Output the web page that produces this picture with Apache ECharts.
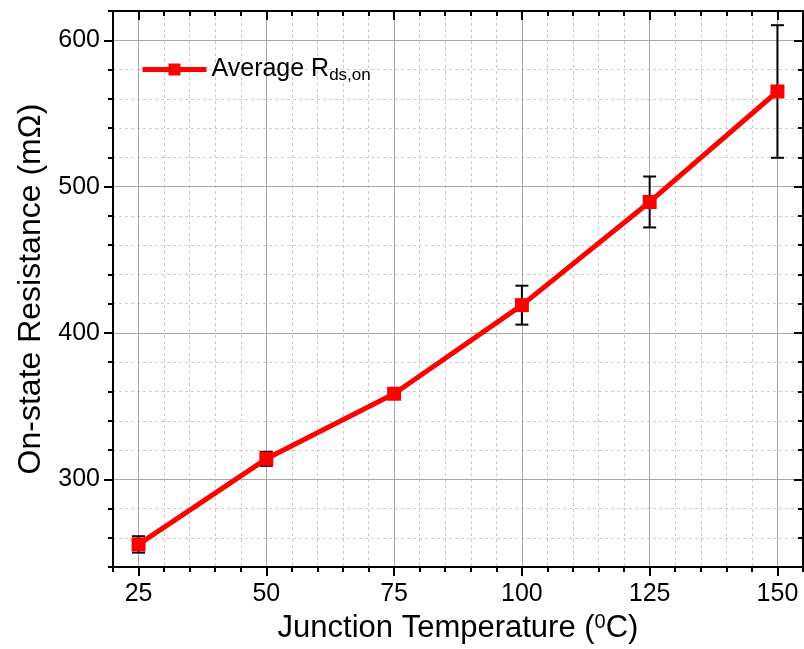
<!DOCTYPE html>
<html>
<head>
<meta charset="utf-8">
<script src="https://cdn.jsdelivr.net/npm/echarts@6/dist/echarts.min.js"></script>
<style>
  html, body { margin: 0; padding: 0; background: #ffffff; }
  #chart { width: 804px; height: 649px; }
</style>
</head>
<body>
<div id="chart"></div>
<script>
// Junction temperature (°C) and measured average on-state resistance (mΩ)
const temps = [25, 50, 75, 100, 125, 150];
const rdsOn = [255.5, 314, 358.5, 419, 489.5, 565];
const rdsErr = [5.6, 4.8, 3.7, 13.3, 17.4, 45.3];

// Tick positions
const xMajorTicks = [25, 50, 75, 100, 125, 150];
const yMajorTicks = [300, 400, 500, 600];

const FONT = '"Liberation Sans", Arial, sans-serif';
const AXIS_BLACK = { color: '#000', width: 2 };
const MAJOR_GRID = { color: '#a8a8a8', width: 1, type: 'solid' };
const MINOR_GRID = { color: '#cccccc', width: 1, type: [3, 3] };

function xAxisDef(pos, major) {
  const isBottom = pos === 'bottom';
  const def = {
    type: 'value', position: pos, min: 20, max: 155, interval: 5,
    z: major ? 1 : 0,
    axisLine: { show: major, onZero: false, lineStyle: AXIS_BLACK },
    axisTick: { show: true, inside: !isBottom, length: major ? 9 : 5, lineStyle: AXIS_BLACK },
    axisLabel: { show: false },
    splitLine: { show: false }
  };
  if (major) {
    def.axisTick.customValues = xMajorTicks;
  }
  if (isBottom && major) {
    def.axisLabel = { show: true, customValues: xMajorTicks, margin: 15, fontSize: 25, color: '#000', fontFamily: FONT };
    def.splitLine = { show: true, lineStyle: MAJOR_GRID };
    def.name = '{t|Junction Temperature (}{s|0}{t|C)}';
    def.nameLocation = 'middle';
    def.nameGap = 41;
    def.nameTextStyle = {
      fontFamily: FONT, color: '#000',
      rich: {
        t: { fontSize: 31, fontFamily: FONT, color: '#000', lineHeight: 34 },
        s: { fontSize: 20, fontFamily: FONT, color: '#000', lineHeight: 34, padding: [0, 0, 12, 0] }
      }
    };
  }
  if (isBottom && !major) {
    def.splitLine = { show: true, lineStyle: MINOR_GRID };
  }
  return def;
}

function yAxisDef(pos, major) {
  const isLeft = pos === 'left';
  const def = {
    type: 'value', position: pos, min: 240, max: 620, interval: 20,
    z: major ? 1 : 0,
    axisLine: { show: major, onZero: false, lineStyle: AXIS_BLACK },
    axisTick: { show: true, inside: !isLeft, length: major ? 9 : 5, lineStyle: AXIS_BLACK },
    axisLabel: { show: false },
    splitLine: { show: false }
  };
  if (major) {
    def.axisTick.customValues = yMajorTicks;
  }
  if (isLeft && major) {
    def.axisLabel = { show: true, customValues: yMajorTicks, margin: 13, fontSize: 25, color: '#000', fontFamily: FONT };
    def.splitLine = { show: true, lineStyle: MAJOR_GRID };
    def.name = 'On-state Resistance (mΩ)';
    def.nameLocation = 'middle';
    def.nameRotate = 90;
    def.nameGap = 58;
    def.nameTextStyle = { fontSize: 32, fontFamily: FONT, color: '#000' };
  }
  if (isLeft && !major) {
    def.splitLine = { show: true, lineStyle: MINOR_GRID };
  }
  return def;
}

const chart = echarts.init(document.getElementById('chart'), null, { renderer: 'canvas' });

chart.setOption({
  animation: false,
  backgroundColor: '#ffffff',
  grid: { left: 113, right: 1, top: 11, bottom: 81, containLabel: false },
  xAxis: [
    xAxisDef('bottom', true),
    xAxisDef('bottom', false),
    xAxisDef('top', true),
    xAxisDef('top', false)
  ],
  yAxis: [
    yAxisDef('left', true),
    yAxisDef('left', false),
    yAxisDef('right', true),
    yAxisDef('right', false)
  ],
  legend: {
    show: true,
    data: ['Average Rds,on'],
    left: 140,
    top: 55,
    padding: 0,
    itemWidth: 64,
    itemHeight: 15,
    lineStyle: { width: 5, color: '#ff0000' },
    itemStyle: { color: '#ff0000' },
    formatter: function () { return '{a|Average R}{b|ds,on}'; },
    textStyle: {
      rich: {
        a: { fontSize: 25, fontFamily: FONT, color: '#000', lineHeight: 32 },
        b: { fontSize: 17, fontFamily: FONT, color: '#000', lineHeight: 32, padding: [12, 0, 0, 0] }
      }
    }
  },
  series: [
    {
      name: 'Error',
      type: 'custom',
      xAxisIndex: 0,
      yAxisIndex: 0,
      z: 2,
      data: temps.map((t, i) => [t, rdsOn[i], rdsErr[i]]),
      encode: { x: 0, y: 1 },
      renderItem: function (params, api) {
        const x = api.value(0);
        const y = api.value(1);
        const e = api.value(2);
        const top = api.coord([x, y + e]);
        const bot = api.coord([x, y - e]);
        const hw = 6.5;
        const st = { stroke: '#000', lineWidth: 2 };
        return {
          type: 'group',
          children: [
            { type: 'line', shape: { x1: top[0], y1: top[1], x2: bot[0], y2: bot[1] }, style: st },
            { type: 'line', shape: { x1: top[0] - hw, y1: top[1], x2: top[0] + hw, y2: top[1] }, style: st },
            { type: 'line', shape: { x1: bot[0] - hw, y1: bot[1], x2: bot[0] + hw, y2: bot[1] }, style: st }
          ]
        };
      }
    },
    {
      name: 'Average Rds,on',
      type: 'line',
      xAxisIndex: 0,
      yAxisIndex: 0,
      z: 3,
      data: temps.map((t, i) => [t, rdsOn[i]]),
      symbol: 'rect',
      symbolSize: 14,
      lineStyle: { color: '#ff0000', width: 5 },
      itemStyle: { color: '#ff0000' }
    }
  ]
});
</script>
</body>
</html>
